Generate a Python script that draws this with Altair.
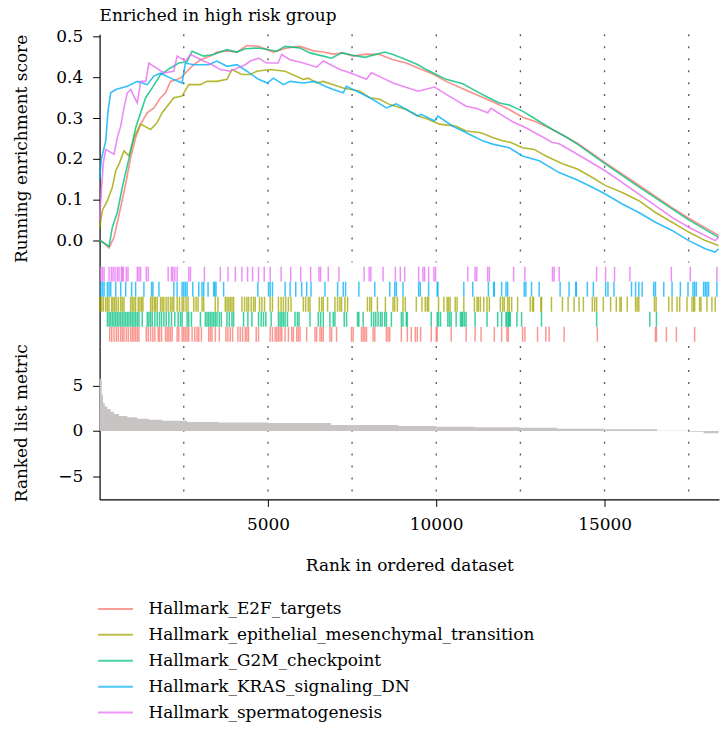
import altair as alt
import pandas as pd

FONT = "DejaVu Serif"

SETS = [
    "Hallmark_E2F_targets",
    "Hallmark_epithelial_mesenchymal_transition",
    "Hallmark_G2M_checkpoint",
    "Hallmark_KRAS_signaling_DN",
    "Hallmark_spermatogenesis",
]
COLORS = ["#F8766D", "#A3A500", "#00BF7D", "#00B0F6", "#E76BF3"]
RUG_ORDER = [SETS[4], SETS[3], SETS[1], SETS[2], SETS[0]]

# ---- running enrichment score ----
E2F_RANK = [0, 100, 281, 429, 627, 775, 923, 1072, 1220, 1415, 1613, 1811, 1960, 2107, 2404, 2599, 2797, 2996, 3291, 3487, 3783, 4079, 4375, 4721, 5165, 5559, 5955, 6349, 6645, 6941, 7237, 7533, 7927, 8323, 8717, 9111, 9457, 9901, 10295, 10840, 11284, 11677, 12171, 12565, 12959, 13453, 14193, 15031, 16019, 17005, 17499, 18388]
E2F_ES = [0.0, -0.005, -0.019, 0.007, 0.081, 0.138, 0.203, 0.252, 0.285, 0.313, 0.325, 0.35, 0.362, 0.39, 0.398, 0.415, 0.431, 0.443, 0.452, 0.462, 0.465, 0.462, 0.478, 0.476, 0.462, 0.472, 0.476, 0.465, 0.462, 0.457, 0.46, 0.452, 0.457, 0.456, 0.443, 0.435, 0.423, 0.408, 0.39, 0.37, 0.354, 0.34, 0.321, 0.302, 0.291, 0.272, 0.238, 0.19, 0.135, 0.08, 0.054, 0.012]

EMT_RANK = [0, 83, 231, 379, 479, 577, 725, 873, 1021, 1220, 1515, 1711, 1859, 2205, 2451, 2649, 2996, 3191, 3487, 3783, 3931, 4227, 4475, 4671, 5068, 5511, 6053, 6201, 6447, 6645, 6941, 7237, 7731, 8027, 8323, 8619, 9111, 9457, 9703, 10099, 10591, 10887, 11331, 11677, 11973, 12219, 12565, 12911, 13255, 13749, 14193, 14637, 15031, 15525, 16019, 16511, 17005, 17499, 17991, 18388]
EMT_ES = [0.03, 0.073, 0.097, 0.13, 0.17, 0.187, 0.219, 0.207, 0.252, 0.285, 0.272, 0.289, 0.313, 0.35, 0.354, 0.382, 0.382, 0.39, 0.39, 0.395, 0.419, 0.407, 0.407, 0.415, 0.419, 0.415, 0.395, 0.398, 0.386, 0.39, 0.382, 0.374, 0.366, 0.35, 0.346, 0.333, 0.321, 0.305, 0.299, 0.285, 0.28, 0.268, 0.264, 0.252, 0.244, 0.24, 0.227, 0.223, 0.207, 0.188, 0.175, 0.154, 0.134, 0.117, 0.097, 0.068, 0.044, 0.02, -0.001, -0.013]

G2M_RANK = [0, 281, 379, 527, 675, 823, 971, 1072, 1220, 1368, 1563, 1811, 2107, 2353, 2599, 2747, 3093, 3389, 3783, 4079, 4328, 4721, 5263, 5511, 5955, 6251, 6645, 6891, 7187, 7533, 7880, 8471, 8717, 9111, 9457, 9703, 9999, 10295, 10789, 11183, 11529, 11875, 12171, 12565, 12959, 13453, 13847, 14193, 15031, 16019, 17005, 17499, 18388]
G2M_ES = [0.0, -0.015, 0.032, 0.068, 0.13, 0.183, 0.236, 0.276, 0.313, 0.35, 0.374, 0.407, 0.423, 0.435, 0.438, 0.464, 0.452, 0.456, 0.468, 0.462, 0.47, 0.472, 0.464, 0.476, 0.472, 0.46, 0.452, 0.447, 0.46, 0.454, 0.449, 0.462, 0.456, 0.443, 0.431, 0.419, 0.407, 0.395, 0.384, 0.366, 0.351, 0.337, 0.332, 0.317, 0.297, 0.272, 0.254, 0.236, 0.187, 0.131, 0.077, 0.05, 0.007]

KRAS_RANK = [0, 15, 53, 183, 250, 330, 480, 823, 1120, 1415, 1613, 1811, 2107, 2450, 2550, 2797, 3241, 3487, 3783, 4079, 4375, 4721, 4982, 5165, 5461, 5659, 6053, 6400, 6696, 6941, 7237, 7335, 7731, 8027, 8519, 8815, 9111, 9457, 9555, 9951, 10049, 10493, 10789, 11085, 11381, 11677, 12171, 12565, 13059, 13651, 14193, 14637, 15031, 15525, 16019, 16511, 17005, 17499, 17991, 18287, 18388]
KRAS_ES = [0.15, 0.162, 0.199, 0.244, 0.317, 0.362, 0.37, 0.378, 0.39, 0.382, 0.403, 0.41, 0.398, 0.386, 0.435, 0.431, 0.431, 0.44, 0.427, 0.431, 0.415, 0.395, 0.386, 0.398, 0.382, 0.39, 0.386, 0.39, 0.378, 0.37, 0.362, 0.378, 0.362, 0.35, 0.325, 0.335, 0.321, 0.305, 0.309, 0.293, 0.305, 0.28, 0.268, 0.256, 0.244, 0.236, 0.227, 0.207, 0.195, 0.166, 0.148, 0.13, 0.113, 0.089, 0.068, 0.044, 0.024, -0.001, -0.021, -0.029, -0.021]

SPERM_RANK = [0, 15, 53, 112, 183, 429, 527, 627, 725, 823, 923, 1119, 1220, 1370, 1465, 1909, 2205, 2303, 2551, 2699, 3093, 3339, 3587, 3883, 4328, 4475, 4721, 4967, 5300, 5411, 5659, 6053, 6447, 6645, 7139, 7435, 7927, 8075, 8421, 8717, 9457, 9951, 10295, 10887, 11183, 11529, 11627, 12269, 12663, 13107, 13453, 13651, 14193, 15031, 16019, 17005, 17499, 18287, 18388]
SPERM_ES = [0.05, 0.068, 0.122, 0.191, 0.223, 0.211, 0.252, 0.28, 0.325, 0.362, 0.37, 0.337, 0.39, 0.39, 0.435, 0.411, 0.415, 0.452, 0.44, 0.456, 0.44, 0.431, 0.419, 0.415, 0.431, 0.44, 0.447, 0.435, 0.435, 0.456, 0.443, 0.435, 0.425, 0.44, 0.419, 0.411, 0.395, 0.411, 0.398, 0.386, 0.366, 0.376, 0.358, 0.329, 0.324, 0.313, 0.324, 0.291, 0.276, 0.256, 0.24, 0.237, 0.211, 0.17, 0.113, 0.056, 0.032, -0.001, 0.007]

# ---- gene-set hit positions (rug) ----
E2F_HITS = [301, 360, 429, 498, 557, 626, 676, 725, 794, 853, 922, 972, 1021, 1070, 1120, 1169, 1386, 1445, 1514, 1583, 1643, 1741, 1781, 1840, 1958, 2008, 2057, 2106, 2156, 2304, 2353, 2452, 2501, 2550, 2600, 2649, 2748, 2827, 2896, 2945, 3024, 3241, 3290, 3340, 3438, 3557, 3754, 3813, 3882, 3952, 4109, 4178, 4248, 4327, 4376, 4425, 4652, 4721, 5067, 5136, 5214, 5264, 5313, 5362, 5412, 5511, 5609, 5708, 5757, 5856, 5905, 5955, 6152, 6399, 6448, 6547, 6596, 6645, 6842, 6892, 7040, 7484, 7533, 7780, 7829, 7879, 7928, 8125, 8175, 8520, 8569, 8619, 8964, 9141, 9260, 9378, 9437, 9536, 9852, 10000, 10029, 10444, 10888, 11154, 11332, 11726, 11943, 12101, 12141, 12565, 12634, 13009, 13255, 13354, 13799, 14785, 16512, 16541, 16837, 17133, 17676]
EMT_HITS = [15, 64, 113, 182, 232, 281, 360, 399, 449, 498, 557, 626, 676, 725, 922, 972, 1021, 1070, 1149, 1199, 1248, 1287, 1514, 1564, 1623, 1662, 1712, 1810, 1860, 1909, 1978, 2037, 2106, 2156, 2205, 2304, 2373, 2452, 2501, 2570, 2629, 2797, 2866, 2925, 3044, 3093, 3438, 3517, 3734, 3784, 3833, 3882, 3932, 3981, 4228, 4307, 4376, 4425, 4504, 4573, 4623, 4751, 4820, 4899, 5067, 5136, 5313, 5392, 5461, 5530, 5609, 5688, 6053, 6122, 6201, 6250, 6527, 6596, 6645, 6773, 6990, 7069, 7138, 7188, 7287, 7366, 7957, 8026, 8076, 8253, 8490, 8717, 8767, 8846, 9013, 9082, 9408, 9575, 9674, 9733, 9773, 10069, 10227, 10325, 10365, 10414, 10562, 10621, 10819, 11134, 11213, 11253, 11312, 11411, 11509, 11578, 11904, 11973, 12022, 12121, 12170, 12240, 12417, 12792, 12861, 12891, 13108, 13128, 13423, 13749, 13917, 14095, 14243, 14371, 14637, 14706, 14765, 14963, 15180, 15348, 15456, 15496, 15673, 15920, 15969, 16018, 16482, 16532, 16907, 17005, 17153, 17232, 17449, 17597, 17647, 17676, 17824, 17864, 18041, 18189, 18288]
G2M_HITS = [232, 281, 330, 380, 429, 478, 528, 577, 626, 676, 725, 774, 824, 873, 922, 972, 1021, 1070, 1120, 1169, 1268, 1416, 1465, 1514, 1564, 1643, 1712, 1781, 1840, 1909, 1978, 2057, 2136, 2235, 2333, 2402, 2452, 2600, 2649, 2728, 2995, 3142, 3192, 3241, 3290, 3340, 3389, 3438, 3488, 3557, 3616, 3784, 3853, 3932, 3981, 4277, 4405, 4524, 4721, 4800, 4869, 4938, 5096, 5313, 5362, 5412, 5461, 5511, 5580, 5806, 5876, 5925, 6250, 6497, 6566, 6645, 6842, 6941, 6991, 7267, 7336, 7662, 7701, 7829, 8076, 8145, 8204, 8273, 8342, 8392, 8471, 8520, 8668, 8964, 9013, 9112, 9141, 9852, 10029, 10069, 10128, 10345, 10394, 10444, 10592, 10720, 10759, 10789, 10838, 10888, 11154, 11509, 11825, 11943, 12072, 12101, 12141, 12170, 12200, 12397, 12535, 13127, 14765, 16344, 16541]
KRAS_HITS = [35, 84, 133, 232, 281, 331, 479, 627, 775, 952, 1071, 1317, 1544, 1584, 1762, 2205, 2304, 2452, 2501, 2550, 2600, 2768, 2945, 3044, 3093, 3222, 3389, 3419, 3458, 3685, 4702, 5018, 5067, 5136, 5511, 5659, 5827, 6004, 6152, 6281, 6695, 7070, 7238, 7307, 7702, 8175, 8619, 8767, 8816, 9014, 9477, 9526, 9773, 10029, 10049, 10819, 11085, 11549, 11707, 11726, 11943, 12072, 12121, 12614, 12664, 12831, 13058, 13680, 13946, 14144, 14164, 14489, 14667, 15032, 15101, 15279, 15801, 15920, 16018, 16117, 16462, 16512, 16759, 17005, 17252, 17479, 17627, 17676, 17726, 17942, 17992, 18041, 18090, 18337]
SPERM_HITS = [35, 84, 133, 281, 350, 400, 459, 528, 577, 646, 676, 705, 794, 844, 1120, 1169, 1219, 1386, 1445, 2037, 2136, 2176, 2235, 2304, 2649, 2699, 3114, 3587, 3813, 4032, 4227, 4396, 4544, 4721, 4890, 5068, 5393, 5677, 5973, 6269, 6518, 6565, 6793, 7110, 7859, 8007, 8057, 8421, 8785, 8933, 9063, 9478, 9605, 9655, 9774, 9931, 9981, 10937, 11153, 11204, 11529, 11579, 12299, 12633, 13453, 13503, 13651, 14764, 15031, 15297, 15753, 16984, 17547, 18337]

# ---- ranked list metric ----
METRIC_RANK = [0, 35, 65, 104, 154, 231, 331, 429, 577, 823, 1119, 1465, 1859, 2599, 3537, 5000, 6880, 8865, 9990, 11135, 12497, 13600, 14992, 16560, 17500, 17943, 18388]
METRIC_VAL = [5.8, 5.6, 4.0, 3.06, 2.7, 2.43, 2.13, 1.88, 1.66, 1.51, 1.36, 1.25, 1.14, 1.0, 0.93, 0.88, 0.66, 0.55, 0.48, 0.4, 0.37, 0.26, 0.18, 0.04, -0.07, -0.26, -0.63]

GRID_AT = [2500, 5000, 7500, 10000, 12500, 15000, 17500]
X_TICKS = [5000, 10000, 15000]

es_parts = []
for s, r, e in zip(SETS, [E2F_RANK, EMT_RANK, G2M_RANK, KRAS_RANK, SPERM_RANK],
                   [E2F_ES, EMT_ES, G2M_ES, KRAS_ES, SPERM_ES]):
    es_parts.append(pd.DataFrame({"rank": r, "es": e, "set": s}))
es_df = pd.concat(es_parts, ignore_index=True)

hit_parts = []
for s, h in zip(SETS, [E2F_HITS, EMT_HITS, G2M_HITS, KRAS_HITS, SPERM_HITS]):
    hit_parts.append(pd.DataFrame({"rank": h, "set": s}))
hits_df = pd.concat(hit_parts, ignore_index=True)

metric_df = pd.DataFrame({"rank": METRIC_RANK, "metric": METRIC_VAL})
grid_df = pd.DataFrame({"g": GRID_AT})

W = 622
FS = 17
x_scale = alt.Scale(domain=[0, 18400], nice=False, zero=False)
color_scale = alt.Scale(domain=SETS, range=COLORS)

bottom_x_axis = alt.Axis(values=X_TICKS, format="d", title="Rank in ordered dataset",
                         tickSize=7, labelPadding=10, titlePadding=25)


def grid_rule(axis):
    return alt.Chart(grid_df).mark_rule(
        color="#555555", strokeDash=[2, 10], strokeWidth=1.3
    ).encode(x=alt.X("g:Q", scale=x_scale, axis=axis))


lines = alt.Chart(es_df).mark_line(strokeWidth=1.6, opacity=0.8).encode(
    x=alt.X("rank:Q", scale=x_scale, axis=None),
    y=alt.Y(
        "es:Q",
        scale=alt.Scale(domain=[-0.0545, 0.5055], nice=False, zero=False),
        axis=alt.Axis(values=[0, 0.1, 0.2, 0.3, 0.4, 0.5], format=".1f",
                      title="Running enrichment score", titleX=-78, titleY=114.5,
                      titleBaseline="middle", tickSize=7, labelPadding=10),
    ),
    color=alt.Color(
        "set:N", scale=color_scale,
        legend=alt.Legend(title=None, orient="none", legendX=5, legendY=566,
                          symbolType="M-1.75,0H1.75", symbolSize=400, symbolStrokeWidth=2,
                          symbolOpacity=0.7, symbolFillColor="transparent",
                          labelFont=FONT, labelFontSize=FS, labelLimit=600,
                          labelColor="black", labelOffset=22, rowPadding=7),
    ),
)

top = alt.layer(grid_rule(None), lines).properties(
    width=W, height=229,
    title=alt.Title("Enriched in high risk group", anchor="start", frame="group",
                    font=FONT, fontSize=FS, fontWeight="normal", color="black", offset=3),
)

rug = alt.Chart(hits_df).mark_tick(thickness=1.5, size=15, opacity=0.75).encode(
    x=alt.X("rank:Q", scale=x_scale, axis=None),
    y=alt.Y("set:N", scale=alt.Scale(domain=RUG_ORDER, paddingInner=0, paddingOuter=0.28),
            axis=alt.Axis(labels=False, ticks=False, title=None, domain=True)),
    color=alt.Color("set:N", scale=color_scale, legend=None),
).properties(width=W, height=84)

area = alt.Chart(metric_df).mark_area(color="#c8c4c4", interpolate="step-after").encode(
    x=alt.X("rank:Q", scale=x_scale, axis=bottom_x_axis),
    y=alt.Y("metric:Q", scale=alt.Scale(domain=[-7.55, 9.37], nice=False, zero=False),
            axis=alt.Axis(values=[-5, 0, 5], title="Ranked list metric", titleX=-78,
                          titleY=77, titleBaseline="middle", tickSize=7, labelPadding=10)),
    y2=alt.datum(0),
)
bottom = alt.layer(grid_rule(bottom_x_axis), area).properties(width=W, height=154)

chart = alt.vconcat(top, rug, bottom, spacing=0, bounds="flush").properties(
    padding={"left": 12, "top": 5, "right": 0, "bottom": 0}
).configure(font=FONT).configure_axis(
    labelFont=FONT, titleFont=FONT, labelFontSize=FS, titleFontSize=FS,
    labelColor="black", titleColor="black", domainColor="black", tickColor="black",
    titleFontWeight="normal", grid=False, domainWidth=1.2,
).configure_legend(labelFont=FONT).configure_title(font=FONT).configure_view(stroke=None)

chart.save("out.html", embed_options={"renderer": "svg", "actions": False})
